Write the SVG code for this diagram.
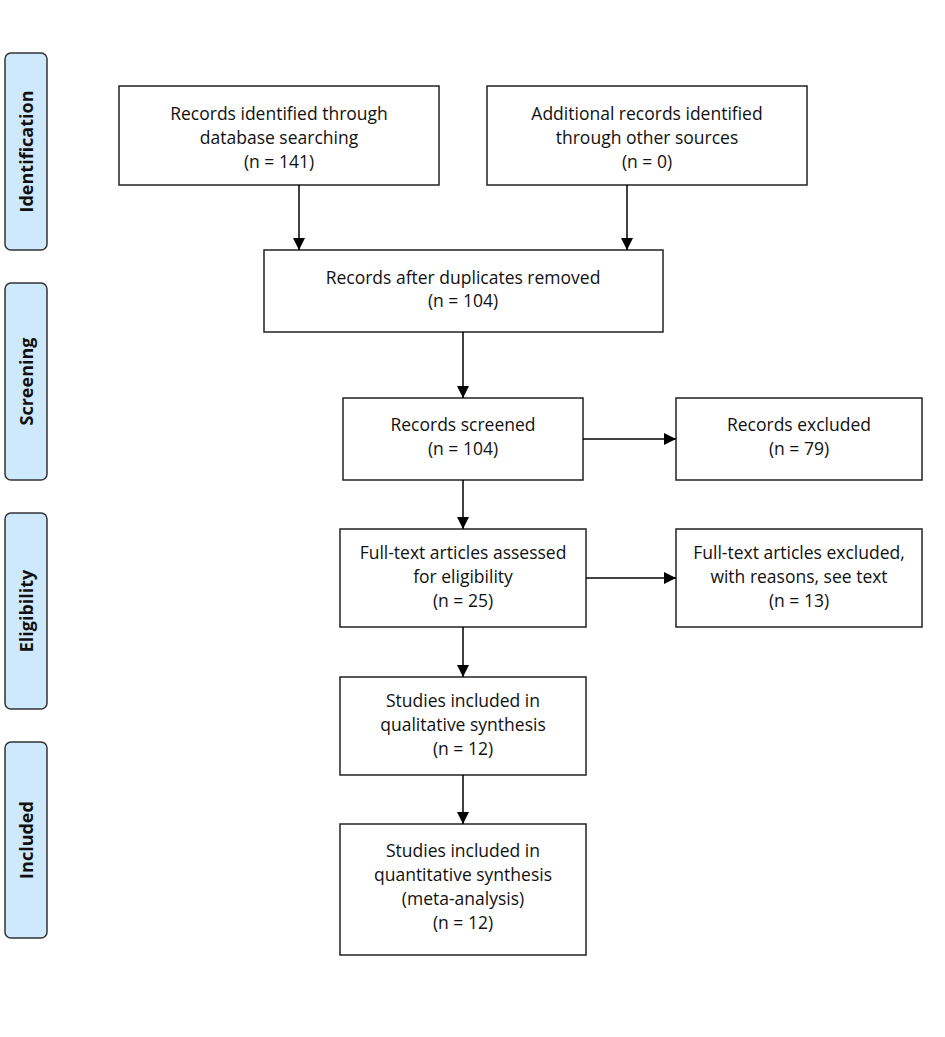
<svg xmlns="http://www.w3.org/2000/svg" width="945" height="1037" viewBox="0 0 945 1037">
<defs>
<marker id="ah" viewBox="0 0 10 10" refX="10" refY="5" markerWidth="12" markerHeight="12" markerUnits="userSpaceOnUse" orient="auto">
<path d="M0,0 L10,5 L0,10 z" fill="#000"/>
</marker>
<style>
.box{fill:#fff;stroke:#222;stroke-width:1.5}
.phase{fill:#cfe9fc;stroke:#333;stroke-width:1.5}
.t{font-family:"Open Sans","Noto Sans","Liberation Sans",sans-serif;font-size:17.5px;fill:#111;text-anchor:middle}
.p{font-family:"Open Sans","Noto Sans","Liberation Sans",sans-serif;font-size:18px;font-weight:bold;fill:#111;text-anchor:middle}
.c{stroke:#000;stroke-width:1.5;fill:none;marker-end:url(#ah)}
</style>
</defs>
<rect width="945" height="1037" fill="#fff"/>
<g id="phase-identification"><rect class="phase" x="5" y="53" width="42" height="197" rx="6"/><text class="p" transform="translate(33,151.5) rotate(-90)">Identification</text></g>
<g id="phase-screening"><rect class="phase" x="5" y="283" width="42" height="197" rx="6"/><text class="p" transform="translate(33,381.5) rotate(-90)">Screening</text></g>
<g id="phase-eligibility"><rect class="phase" x="5" y="513" width="42" height="196" rx="6"/><text class="p" transform="translate(33,611) rotate(-90)">Eligibility</text></g>
<g id="phase-included"><rect class="phase" x="5" y="742" width="42" height="196" rx="6"/><text class="p" transform="translate(33,840) rotate(-90)">Included</text></g>

<g id="n-db"><rect class="box" x="119" y="86" width="320" height="99"/><text class="t" x="279" y="119.5">Records identified through</text><text class="t" x="279" y="143.5">database searching</text><text class="t" x="279" y="167.5">(n = 141)</text></g>
<g id="n-other"><rect class="box" x="487" y="86" width="320" height="99"/><text class="t" x="647" y="119.5">Additional records identified</text><text class="t" x="647" y="143.5">through other sources</text><text class="t" x="647" y="167.5">(n = 0)</text></g>
<g id="n-dup"><rect class="box" x="264" y="250" width="399" height="82"/><text class="t" x="463" y="283.5">Records after duplicates removed</text><text class="t" x="463" y="306.5">(n = 104)</text></g>
<g id="n-screened"><rect class="box" x="343" y="398" width="240" height="82"/><text class="t" x="463" y="430.5">Records screened</text><text class="t" x="463" y="454.5">(n = 104)</text></g>
<g id="n-excluded"><rect class="box" x="676" y="398" width="246" height="82"/><text class="t" x="799" y="430.5">Records excluded</text><text class="t" x="799" y="454.5">(n = 79)</text></g>
<g id="n-fulltext"><rect class="box" x="340" y="529" width="246" height="98"/><text class="t" x="463" y="558.5">Full-text articles assessed</text><text class="t" x="463" y="582.5">for eligibility</text><text class="t" x="463" y="606.5">(n = 25)</text></g>
<g id="n-ftexcl"><rect class="box" x="676" y="529" width="246" height="98"/><text class="t" x="799" y="558.5">Full-text articles excluded,</text><text class="t" x="799" y="582.5">with reasons, see text</text><text class="t" x="799" y="606.5">(n = 13)</text></g>
<g id="n-qual"><rect class="box" x="340" y="677" width="246" height="98"/><text class="t" x="463" y="706.5">Studies included in</text><text class="t" x="463" y="730.5">qualitative synthesis</text><text class="t" x="463" y="754.5">(n = 12)</text></g>
<g id="n-quant"><rect class="box" x="340" y="824" width="246" height="131"/><text class="t" x="463" y="856.5">Studies included in</text><text class="t" x="463" y="880.5">quantitative synthesis</text><text class="t" x="463" y="904.5">(meta-analysis)</text><text class="t" x="463" y="928.5">(n = 12)</text></g>

<g id="connectors">
<line class="c" x1="299" y1="185" x2="299" y2="250"/>
<line class="c" x1="627" y1="185" x2="627" y2="250"/>
<line class="c" x1="463" y1="332" x2="463" y2="398"/>
<line class="c" x1="583" y1="439" x2="676" y2="439"/>
<line class="c" x1="463" y1="480" x2="463" y2="529"/>
<line class="c" x1="586" y1="578" x2="676" y2="578"/>
<line class="c" x1="463" y1="627" x2="463" y2="677"/>
<line class="c" x1="463" y1="775" x2="463" y2="824"/>
</g>
</svg>
